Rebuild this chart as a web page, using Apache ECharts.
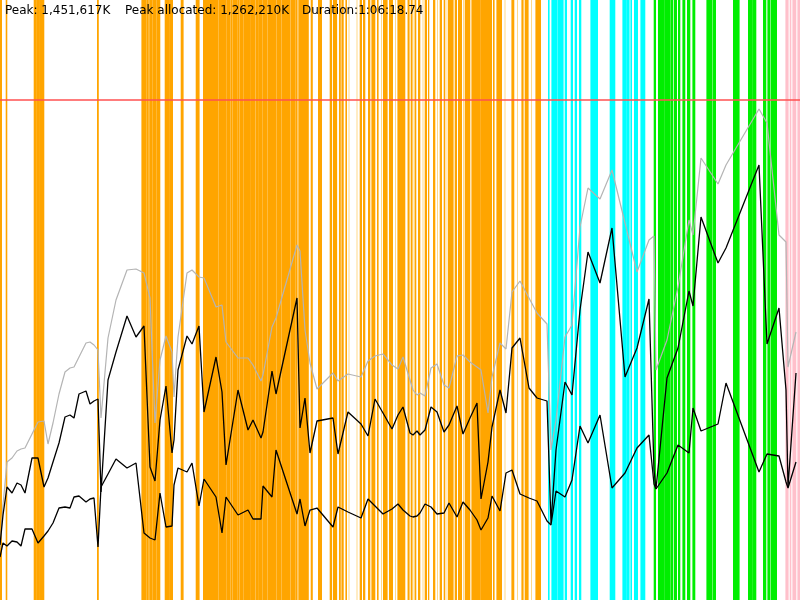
<!DOCTYPE html>
<html>
<head>
<meta charset="utf-8">
<script src="https://cdn.jsdelivr.net/npm/echarts@6/dist/echarts.min.js"></script>
<style>
  html, body { margin: 0; padding: 0; background: #fff; }
  #chart { width: 800px; height: 600px; }
</style>
</head>
<body>
<div id="chart"></div>
<script>
// time axis: 0..800 spans the whole run (1:06:18.74)
const times = [0, 3, 7, 12, 17, 21, 25, 32, 38, 44, 48, 53, 59, 65, 70, 74, 79, 86, 90, 94,
  98, 101, 108, 116, 127, 136, 144, 150, 155, 160, 166, 172, 174, 178, 187, 192, 199, 204, 216, 222,
  226, 238, 248, 253, 261, 263, 272, 276, 297, 300, 305, 310, 317, 333, 338, 348, 361, 368, 375, 383,
  392, 398, 403, 410, 413, 417, 420, 425, 431, 437, 444, 449, 457, 463, 470, 477, 481, 488, 492, 500,
  506, 512, 520, 529, 537, 547, 551, 556, 565, 572, 580, 588, 600, 612, 625, 637, 649, 654, 656, 667,
  678, 689, 693, 701, 718, 726, 759, 767, 779, 786, 788, 796];

// heap size (grey)
const heapSize = [52, 95, 138, 142, 149, 151, 152, 166, 178, 179, 156, 177, 206, 228, 232, 233, 243, 257, 258, 255,
  250, 182, 262, 300, 330, 331, 327, 302, 177, 240, 264, 248, 203, 263, 327, 330, 323, 322, 293, 295,
  258, 242, 242, 235, 219, 225, 273, 282, 355, 349, 270, 237, 211, 227, 219, 226, 223, 239, 244, 246,
  235, 231, 243, 220, 210, 205, 207, 204, 232, 236, 215, 212, 244, 245, 238, 233, 230, 187, 223, 257,
  251, 308, 319, 302, 287, 276, 150, 180, 263, 275, 373, 412, 401, 430, 377, 328, 360, 364, 230, 260,
  313, 380, 365, 442, 416, 435, 491, 477, 365, 358, 233, 268];

// used memory (upper black)
const usedMemory = [55, 85, 113, 107, 117, 115, 107, 142, 142, 113, 122, 138, 157, 183, 185, 182, 206, 209, 196, 199,
  201, 108, 220, 248, 284, 263, 274, 133, 119, 180, 214, 147, 160, 230, 264, 256, 274, 188, 243, 208,
  135, 210, 170, 180, 162, 168, 229, 206, 302, 172, 202, 147, 179, 182, 146, 188, 176, 164, 201, 187,
  171, 185, 193, 167, 165, 169, 165, 170, 193, 188, 168, 175, 194, 166, 182, 197, 101, 138, 173, 210,
  187, 252, 262, 212, 202, 199, 77, 150, 218, 205, 290, 348, 317, 372, 223, 252, 301, 130, 111, 222,
  252, 309, 294, 383, 337, 352, 435, 256, 292, 210, 113, 227];

// live objects (lower black)
const liveMemory = [43, 57, 54, 59, 58, 54, 71, 71, 57, 64, 69, 77, 92, 93, 92, 103, 104, 98, 101, 102,
  53, 113, 126, 141, 132, 137, 67, 62, 60, 107, 73, 74, 115, 132, 128, 137, 94, 121, 103, 67,
  103, 85, 90, 81, 81, 114, 103, 150, 86, 101, 74, 90, 92, 73, 93, 88, 82, 101, 94, 86,
  91, 96, 90, 84, 83, 84, 87, 96, 93, 86, 87, 97, 83, 98, 90, 80, 70, 82, 104, 89,
  127, 130, 106, 102, 99, 79, 75, 109, 103, 120, 174, 157, 185, 112, 127, 152, 165, 116, 111, 127,
  155, 147, 192, 169, 176, 217, 128, 146, 144, 118, 112, 138];

const maxHeap = 500;

// GC / event bands as [start, end] on the time axis
const orangeBands = [[0, 1.7], [6, 7], [34, 36], [36.6, 38.8], [39.4, 44], [97.3, 98.5],
  [141.7, 145.7], [146.5, 148.5], [149.5, 151.7], [152.5, 155.7], [156.5, 160], [165, 168.8], [169.4, 172.7],
  [181, 183.3], [196, 199.3], [203.3, 218.3], [218.9, 226.5], [227.2, 230.3], [230.9, 232.2], [232.8, 236.8],
  [237.5, 239.2], [239.8, 243.5], [244.3, 249.8], [250.4, 255.3], [256, 258.6], [259.3, 262], [262.6, 267.2],
  [267.8, 276.2], [276.8, 281.2], [281.8, 290.3], [291, 295.4], [296, 297.3], [298.6, 308.5], [311, 312.5],
  [318.3, 321.7], [330, 331.8], [333.3, 336.8], [339.3, 340.5], [341.7, 343.4], [345.7, 346.7],
  [360, 361.7], [363.3, 365], [368.3, 370], [371.7, 375], [377.3, 378.3], [383.3, 387.3], [389.3, 392.7],
  [397.7, 405], [408.3, 409.3], [411, 412.3], [415, 416], [418.3, 420], [425, 426.7], [428.3, 429],
  [433.3, 435], [440, 441.7], [444, 445], [448.3, 453.3], [455, 456.7], [458.3, 461.7], [465, 470],
  [471.7, 480], [480.5, 491.7], [493.3, 494.3], [496.7, 501.7], [511.7, 514], [521.7, 523.3],
  [525, 528.3], [535.7, 540.7]];
// faint one-pixel event marks
const lightOrangeBands = [[36, 36.6], [38.8, 39.4], [348.5, 349.1], [356.5, 357.1],
  [381, 381.6], [395, 395.6], [407, 407.6], [413.5, 414.1], [422.5, 423.1], [437, 437.6], [446.5, 447.1],
  [463, 463.6], [476, 476.6], [504.5, 505.1], [517, 517.6], [531, 531.6]];
const cyanBands = [[548.3, 549.3], [551.7, 557], [557.7, 563.3], [565, 566.7], [571, 572.7], [575, 576.7],
  [579.3, 581], [590.7, 597.7], [610, 615], [622.7, 626], [626.5, 629.3], [630.7, 631.7],
  [634.3, 637.7], [640.7, 645]];
const greenBands = [[654, 655.7], [658.3, 664], [664.5, 670], [670.7, 672.7], [674, 676.7], [678.3, 680],
  [682.7, 685], [687.3, 690], [692.7, 695], [706.7, 711.7], [712.7, 715.7], [733.3, 739.3],
  [748.3, 752], [752.5, 756], [763.3, 766], [767.7, 770], [771, 776.7]];
const pinkBands = [[785.7, 788.3], [790, 791], [792.7, 796], [797.7, 800]];

const Y_MAX = 600;

const chart = echarts.init(document.getElementById('chart'));

const pairs = (vals) => times.map((t, i) => [t, vals[i]]);

const bandSeries = (bands, color, pad) => ({
  type: 'custom',
  silent: true,
  z: 1,
  encode: { x: [0, 1] },
  data: bands,
  renderItem: (params, api) => {
    const p0 = api.coord([api.value(0), Y_MAX]);
    const p1 = api.coord([api.value(1), 0]);
    return {
      type: 'rect',
      shape: { x: p0[0] - pad, y: p0[1], width: Math.max(p1[0] - p0[0] + 2 * pad, 1), height: p1[1] - p0[1] },
      style: { fill: color }
    };
  }
});

const lineSeries = (vals, color, width) => ({
  type: 'line',
  data: pairs(vals),
  symbol: 'none',
  z: 3,
  silent: true,
  lineStyle: { color: color, width: width }
});

const font = '12px "DejaVu Sans"';

const option = {
  animation: false,
  grid: { left: 0, right: 0, top: 0, bottom: 0 },
  xAxis: { type: 'value', min: 0, max: 800, show: false },
  yAxis: { type: 'value', min: 0, max: Y_MAX, show: false },
  graphic: [
    { type: 'text', left: 5, top: 5, z: 10, style: { text: 'Peak: 1,451,617K', font: font, fill: '#000' } },
    { type: 'text', left: 125, top: 5, z: 10, style: { text: 'Peak allocated: 1,262,210K', font: font, fill: '#000' } },
    { type: 'text', left: 302, top: 5, z: 10, style: { text: 'Duration:1:06:18.74', font: font, fill: '#000' } }
  ],
  series: [
    bandSeries(lightOrangeBands, '#ffd98a', 0),
    bandSeries(orangeBands, '#ffa500', 0.3),
    bandSeries(cyanBands, '#00ffff', 0.3),
    bandSeries(greenBands, '#00ee00', 0.3),
    bandSeries(pinkBands, '#ffc0cb', 0.3),
    Object.assign(lineSeries(heapSize, '#b4b4b4', 1.2), {
      markLine: {
        silent: true,
        symbol: 'none',
        label: { show: false },
        lineStyle: { color: '#ff5050', width: 1.5, type: 'solid' },
        data: [{ yAxis: maxHeap }]
      }
    }),
    lineSeries(usedMemory, '#000', 1.3),
    lineSeries(liveMemory, '#000', 1.3)
  ]
};

chart.setOption(option);
</script>
</body>
</html>
